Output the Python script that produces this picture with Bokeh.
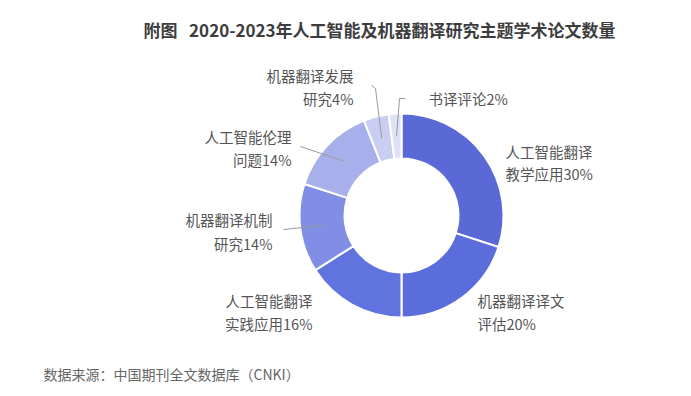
import numpy as np
from bokeh.plotting import figure
from bokeh.models import Range1d, ColumnDataSource
from bokeh.core.properties import value
from bokeh.embed import file_html
from bokeh.resources import INLINE

# ---- data ----
title_text = "附图\u00a0\u00a0\u00a02020-2023年人工智能及机器翻译研究主题学术论文数量"
source_text = "数据来源：中国期刊全文数据库（CNKI）"
name_line1 = ["人工智能翻译", "机器翻译译文", "人工智能翻译", "机器翻译机制", "人工智能伦理", "机器翻译发展", "书译评论"]
name_line2 = ["教学应用", "评估", "实践应用", "研究", "问题", "研究", ""]
shares = [30, 20, 16, 14, 14, 4, 2]
colors = ["#5b69d6", "#5b6cdb", "#6073de", "#808ee6", "#a8b0ec", "#c9cdf2", "#dfe1f6"]

FONT = value("Noto Sans CJK SC")
W, H = 675, 388
p = figure(width=W, height=H, output_backend="svg", toolbar_location=None,
           x_range=Range1d(0, W), y_range=Range1d(-H, 0),
           min_border=0, outline_line_color=None)
p.axis.visible = False
p.grid.visible = False
p.background_fill_color = "white"
p.border_fill_color = "white"

# ---- donut ----
cx, cy = 401, -215
r_in, r_out = 57, 102
vals = np.array(shares, dtype=float)
frac = vals / vals.sum()
cum_end = np.cumsum(frac)
cum_start = cum_end - frac
start_ang = 90 - cum_end * 360
end_ang = 90 - cum_start * 360
src = ColumnDataSource(dict(start=start_ang, end=end_ang, color=colors))
p.annular_wedge(x=cx, y=cy, inner_radius=r_in, outer_radius=r_out,
                inner_radius_units="screen", outer_radius_units="screen",
                start_angle="start", end_angle="end", start_angle_units="deg",
                end_angle_units="deg", fill_color="color", line_color="white",
                line_width=2, source=src)

# ---- leader lines (for small/left slices) ----
mid = (cum_start + cum_end) / 2 * 2 * np.pi
rm = (r_in + r_out) / 2
px = cx + rm * np.sin(mid)
py = cy + rm * np.cos(mid)
leaders = {
    3: [(283, -229)],
    4: [(300, -146)],
    5: [(375, -88), (371, -85)],
    6: [(399, -98), (405, -98)],
}
for i, pts in leaders.items():
    xs = [px[i]] + [a for a, b in pts]
    ys = [py[i]] + [b for a, b in pts]
    p.line(xs, ys, line_color="#9a9a9a", line_width=1)

# ---- labels ----
label_pos = [  # (x, y_line1, y_line2, align)
    (505, 151, 173, "left"),
    (477, 300, 323, "left"),
    (312, 300, 323, "right"),
    (272, 219, 243, "right"),
    (291, 136, 159, "right"),
    (353, 75, 98, "right"),
    (428, 98, 98, "left"),
]
for i, (lx, y1, y2, al) in enumerate(label_pos):
    if name_line2[i]:
        lines = [(name_line1[i], y1), (f"{name_line2[i]}{shares[i]}%", y2)]
    else:
        lines = [(f"{name_line1[i]}{shares[i]}%", y1)]
    for t, yy in lines:
        p.text(x=[lx], y=[-yy], text=[t], text_font=FONT, text_font_size="14.5px",
               text_color="#555555", text_align=al, text_baseline="middle")

# ---- title & source ----
p.text(x=[143], y=[-29], text=[title_text], text_font=FONT, text_font_size="17px",
       text_font_style="bold", text_color="#3d3d3d", text_align="left", text_baseline="middle")
p.text(x=[43], y=[-373], text=[source_text], text_font=FONT, text_font_size="14px",
       text_color="#666666", text_align="left", text_baseline="middle")

open("out.html", "w").write(file_html(p, INLINE))
